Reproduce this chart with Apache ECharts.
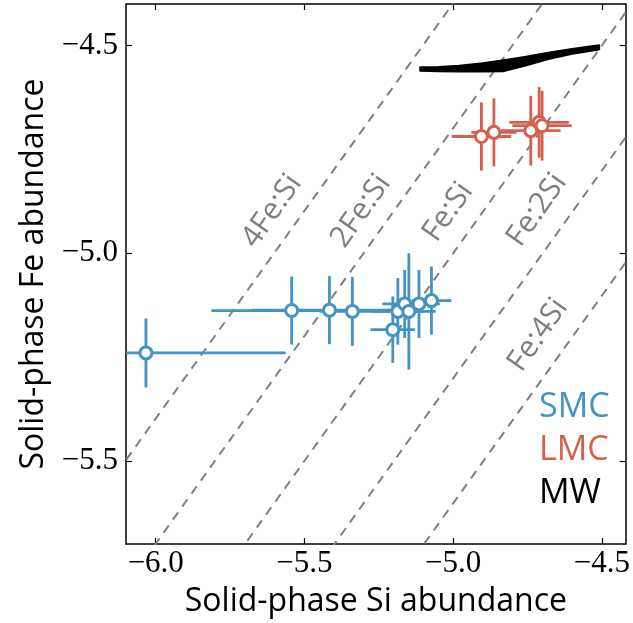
<!DOCTYPE html>
<html>
<head>
<meta charset="utf-8">
<script src="https://cdn.jsdelivr.net/npm/echarts@6/dist/echarts.min.js"></script>
<style>
  html, body { margin: 0; padding: 0; background: #fff; }
  #main { width: 633px; height: 623px; }
</style>
</head>
<body>
<div id="main"></div>
<script>
// SMC 数据 (Si, Fe, Si误差, Fe误差)
var smcSi = [-6.033, -5.543, -5.416, -5.339, -5.203, -5.186, -5.163, -5.149, -5.115, -5.073];
var smcFe = [-5.240, -5.138, -5.137, -5.140, -5.184, -5.140, -5.122, -5.140, -5.122, -5.114];
var smcSiErr = [0.47, 0.27, 0.26, 0.11, 0.075, 0.09, 0.075, 0.09, 0.07, 0.067];
var smcFeErr = [0.083, 0.082, 0.082, 0.083, 0.08, 0.08, 0.082, 0.14, 0.082, 0.082];
// LMC 数据
var lmcSi = [-4.905, -4.863, -4.739, -4.711, -4.701];
var lmcFe = [-4.719, -4.709, -4.705, -4.685, -4.693];
var lmcSiErr = [0.10, 0.076, 0.10, 0.10, 0.10];
var lmcFeErr = [0.082, 0.082, 0.084, 0.085, 0.084];
// MW 带状区域
var mwSi = [-5.11, -5.05, -4.98, -4.90, -4.83, -4.76, -4.68, -4.60, -4.51];
var mwFeTop = [-4.553, -4.552, -4.549, -4.543, -4.536, -4.528, -4.518, -4.509, -4.500];
var mwFeBot = [-4.560, -4.561, -4.562, -4.562, -4.561, -4.548, -4.532, -4.519, -4.509];
// Fe:Si 比例线
var ratioNames = ["4Fe:Si", "2Fe:Si", "Fe:Si", "Fe:2Si", "Fe:4Si"];
var ratioValues = [4, 2, 1, 0.5, 0.25];
var tickValues = [-6.0, -5.5, -5.0, -4.5];

var smcColor = "#4393c3";
var lmcColor = "#d6604d";
var grayColor = "#7f7f7f";

var chart = echarts.init(document.getElementById("main"));

function zip(a, b) {
  return a.map(function (v, i) { return [v, b[i]]; });
}

// 误差棒
function errorSeries(si, fe, siErr, feErr, color) {
  var data = si.map(function (v, i) { return [v, fe[i], siErr[i], feErr[i]]; });
  return {
    type: "custom",
    data: data,
    clip: true,
    z: 3,
    renderItem: function (params, api) {
      var x = api.value(0), y = api.value(1), ex = api.value(2), ey = api.value(3);
      var l = api.coord([x - ex, y]), r = api.coord([x + ex, y]);
      var t = api.coord([x, y + ey]), b = api.coord([x, y - ey]);
      var style = { stroke: color, lineWidth: 2.8 };
      return {
        type: "group",
        children: [
          { type: "line", shape: { x1: l[0], y1: l[1], x2: r[0], y2: r[1] }, style: style },
          { type: "line", shape: { x1: t[0], y1: t[1], x2: b[0], y2: b[1] }, style: style }
        ]
      };
    }
  };
}

function pointSeries(si, fe, color) {
  return {
    type: "scatter",
    data: zip(si, fe),
    symbol: "circle",
    symbolSize: 12,
    z: 4,
    itemStyle: { color: "#fff", borderColor: color, borderWidth: 3, opacity: 1 }
  };
}

// 比例虚线
var ratioSeries = ratioValues.map(function (r) {
  var k = Math.log10(r);
  return {
    type: "line",
    data: [[-6.6, -6.6 + k], [-4.0, -4.0 + k]],
    symbol: "none",
    silent: true,
    z: 1,
    lineStyle: { color: grayColor, width: 2, type: [9, 7] }
  };
});

var mwSeries = {
  type: "custom",
  data: [0],
  z: 2,
  renderItem: function (params, api) {
    var pts = [];
    for (var i = 0; i < mwSi.length; i++) pts.push(api.coord([mwSi[i], mwFeTop[i]]));
    for (var j = mwSi.length - 1; j >= 0; j--) pts.push(api.coord([mwSi[j], mwFeBot[j]]));
    return {
      type: "polygon",
      shape: { points: pts },
      style: { fill: "#000", stroke: "#000", lineWidth: 2.5, lineJoin: "round" }
    };
  }
};

function fmt(v) {
  return v.toFixed(1).replace("-", "\u2212");
}

var tickStyle = { show: true, inside: true, length: 6, lineStyle: { color: "#000", width: 1.2 }, customValues: tickValues };
var lineStyle = { show: true, onZero: false, lineStyle: { color: "#000", width: 1.5 } };

var option = {
  animation: false,
  grid: { left: 126, right: 6, top: 4, bottom: 78 },
  xAxis: [
    {
      type: "value", min: -6.1, max: -4.42,
      splitLine: { show: false },
      axisLine: lineStyle,
      axisTick: tickStyle,
      axisLabel: {
        customValues: tickValues, formatter: fmt, color: "#000",
        fontFamily: "Liberation Serif", fontSize: 31, margin: 4
      },
      name: "Solid-phase Si abundance",
      nameLocation: "middle",
      nameGap: 42,
      nameTextStyle: { fontFamily: "Open Sans", fontSize: 32, color: "#000" }
    },
    {
      type: "value", min: -6.1, max: -4.42, position: "top",
      splitLine: { show: false },
      axisLine: lineStyle,
      axisTick: tickStyle,
      axisLabel: { show: false }
    }
  ],
  yAxis: [
    {
      type: "value", min: -5.7, max: -4.4,
      splitLine: { show: false },
      axisLine: lineStyle,
      axisTick: tickStyle,
      axisLabel: {
        customValues: tickValues, formatter: fmt, color: "#000",
        fontFamily: "Liberation Serif", fontSize: 31, margin: 8
      },
      name: "Solid-phase Fe abundance",
      nameLocation: "middle",
      nameGap: 76,
      nameTextStyle: { fontFamily: "Open Sans", fontSize: 32, color: "#000" }
    },
    {
      type: "value", min: -5.7, max: -4.4, position: "right",
      splitLine: { show: false },
      axisLine: lineStyle,
      axisTick: tickStyle,
      axisLabel: { show: false }
    }
  ],
  series: ratioSeries.concat([
    mwSeries,
    errorSeries(smcSi, smcFe, smcSiErr, smcFeErr, smcColor),
    errorSeries(lmcSi, lmcFe, lmcSiErr, lmcFeErr, lmcColor),
    pointSeries(smcSi, smcFe, smcColor),
    pointSeries(lmcSi, lmcFe, lmcColor)
  ])
};

chart.setOption(option);

// 比例线标签 和 图例文字
var labelPos = [[272, 211], [361, 211], [448, 212], [537, 210], [538, 335]];
var graphics = ratioNames.map(function (name, i) {
  return {
    type: "text",
    x: labelPos[i][0], y: labelPos[i][1],
    rotation: 54.7 * Math.PI / 180,
    z: 5,
    style: {
      text: name, fill: grayColor, font: "30px 'Open Sans'",
      align: "center", verticalAlign: "middle"
    }
  };
});
var legendNames = ["SMC", "LMC", "MW"];
var legendColors = [smcColor, lmcColor, "#000"];
legendNames.forEach(function (name, i) {
  graphics.push({
    type: "text", x: 539, y: 407 + i * 43, z: 5,
    style: { text: name, fill: legendColors[i], font: "34px 'Open Sans'", align: "left", verticalAlign: "middle" }
  });
});
chart.setOption({ graphic: graphics });
</script>
</body>
</html>
